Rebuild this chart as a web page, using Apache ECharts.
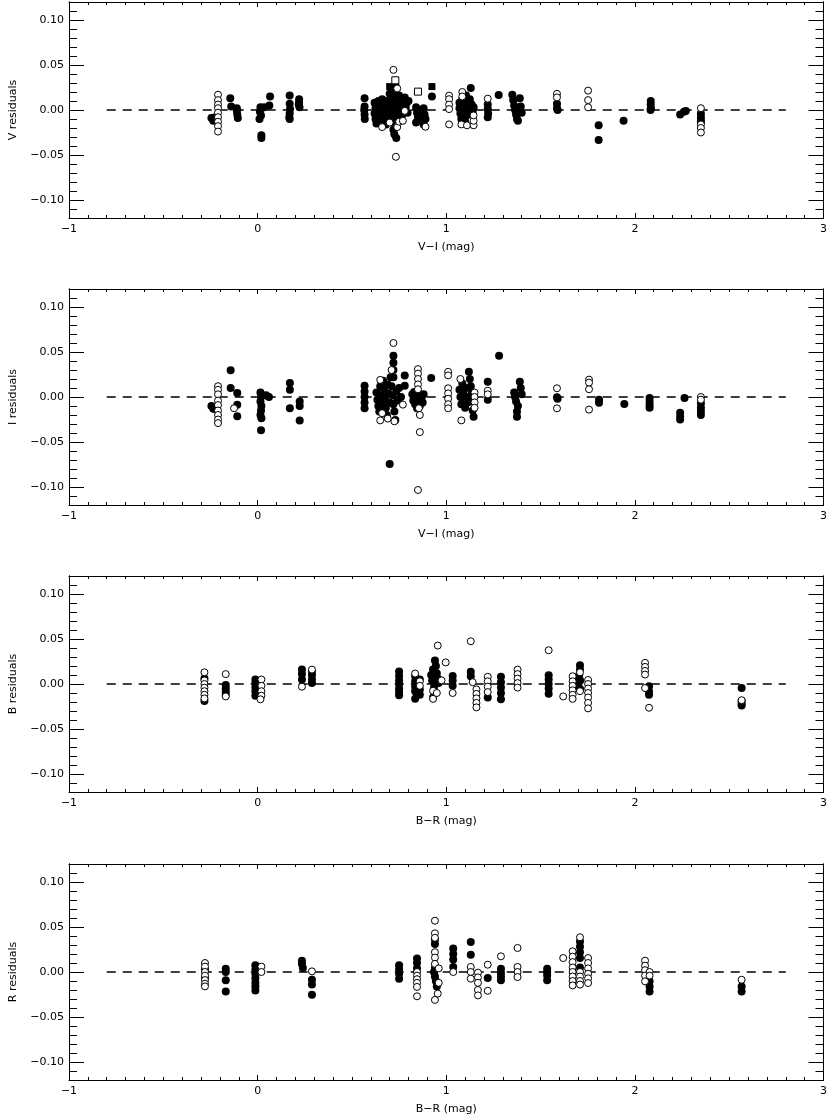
<!DOCTYPE html>
<html><head><meta charset="utf-8">
<script src="https://cdn.jsdelivr.net/npm/echarts@6/dist/echarts.min.js"></script>
<style>html,body{margin:0;padding:0;background:#fff}#c{width:830px;height:1118px}</style>
</head><body><div id="c"></div><script>
// ---------- tick values ----------
const xMin = -1, xMax = 3, xInterval = 1;
const yMin = -0.12, yMax = 0.12;
const yMajorTicks = [-0.10, -0.05, 0.00, 0.05, 0.10];
const yMinorTicks = [-0.11,-0.10,-0.09,-0.08,-0.07,-0.06,-0.05,-0.04,-0.03,-0.02,-0.01,0,0.01,0.02,0.03,0.04,0.05,0.06,0.07,0.08,0.09,0.10,0.11];
const zeroLineX = [-0.8, 2.8];
const yNames = ['V residuals', 'I residuals', 'B residuals', 'R residuals'];
const xNames = ['V\u2212I (mag)', 'V\u2212I (mag)', 'B\u2212R (mag)', 'B\u2212R (mag)'];

// ---------- Panel 1: V residuals vs V-I ----------
const vFilled = [
[-0.245,-0.009],[-0.235,-0.012],[-0.225,-0.008],[-0.215,-0.011],
[-0.145,0.013],[-0.14,0.004],[-0.11,-0.001],[-0.108,-0.005],[-0.105,-0.009],[-0.11,0.002],
[0.015,0.003],[0.012,-0.002],[0.018,-0.006],[0.01,-0.010],[0.02,-0.028],[0.02,-0.031],[0.035,0.003],[0.066,0.015],[0.062,0.005],
[0.17,0.016],[0.17,0.007],[0.172,0.001],[0.17,-0.004],[0.168,-0.008],[0.17,-0.010],
[0.22,0.012],[0.22,0.009],[0.218,0.006],[0.222,0.003],
[0.567,0.013],[0.567,0.004],[0.565,0.0],[0.567,-0.005],[0.568,-0.010],
[0.62,0.008],[0.625,0.002],[0.62,-0.004],[0.625,-0.010],[0.63,-0.015],[0.64,0.010],[0.645,0.004],[0.65,-0.002],[0.645,-0.008],[0.66,-0.013],
[0.66,0.012],[0.665,0.006],[0.67,0.0],[0.67,-0.006],[0.675,-0.012],[0.68,-0.016],[0.685,0.010],[0.69,0.004],[0.69,-0.003],[0.695,-0.009],
[0.70,0.018],[0.705,0.012],[0.71,0.006],[0.71,-0.001],[0.715,-0.008],[0.72,-0.014],[0.72,-0.022],[0.725,-0.027],[0.735,-0.031],
[0.73,0.028],[0.73,0.020],[0.735,0.013],[0.74,0.005],[0.74,-0.003],[0.745,-0.010],[0.75,0.016],[0.755,0.009],[0.76,0.002],[0.765,-0.006],
[0.77,0.012],[0.775,0.006],[0.78,0.014],[0.785,0.003],[0.79,0.008],[0.795,-0.003],[0.80,0.010],
[0.84,0.003],[0.845,-0.003],[0.85,-0.008],[0.84,-0.014],[0.86,0.0],[0.865,-0.006],[0.87,-0.012],[0.88,0.002],[0.885,-0.005],[0.89,-0.010],[0.88,-0.016],[0.924,0.015],
[1.07,0.008],[1.07,0.002],[1.075,-0.004],[1.08,-0.010],[1.085,0.012],[1.09,0.005],[1.095,-0.002],[1.10,-0.008],[1.10,-0.013],[1.105,0.016],
[1.11,0.009],[1.115,0.002],[1.12,-0.005],[1.125,0.012],[1.13,0.0245],[1.135,0.006],[1.14,-0.002],[1.145,0.003],
[1.22,0.006],[1.22,0.001],[1.222,-0.004],[1.22,-0.008],
[1.278,0.0167],
[1.35,0.017],[1.355,0.011],[1.36,0.005],[1.365,0.0],[1.37,-0.005],[1.375,-0.010],[1.39,0.013],[1.395,0.004],[1.40,-0.003],[1.38,-0.012],
[1.587,0.007],[1.587,0.002],[1.59,0.0],
[1.808,-0.017],[1.808,-0.0334],
[1.94,-0.012],
[2.084,0.010],[2.084,0.006],[2.085,0.002],[2.083,0.0],
[2.24,-0.005],[2.26,-0.002],[2.27,-0.001],
[2.35,-0.004],[2.35,-0.008],[2.35,-0.012],[2.35,-0.014]
];
const vOpen = [
[-0.21,0.017],[-0.21,0.011],[-0.21,0.006],[-0.21,0.002],[-0.21,-0.003],[-0.21,-0.008],[-0.21,-0.013],[-0.21,-0.018],[-0.21,-0.024],
[0.72,0.0446],[0.733,-0.052],[0.74,0.024],[0.66,-0.019],[0.70,-0.014],[0.74,-0.019],[0.75,-0.013],[0.78,-0.001],[0.77,-0.012],[0.89,-0.0186],
[1.015,0.016],[1.015,0.012],[1.015,0.006],[1.015,0.001],[1.015,-0.016],
[1.085,0.020],[1.085,0.015],[1.08,-0.016],[1.11,-0.017],[1.145,-0.017],[1.145,-0.012],[1.145,-0.006],
[1.22,0.0126],
[1.587,0.018],[1.587,0.014],
[1.752,0.0215],[1.752,0.011],[1.752,0.003],
[2.35,0.002],[2.35,-0.016],[2.35,-0.020],[2.35,-0.025]
];
const vOpenSquare = [[0.85,0.0204],[0.73,0.033]];
const vFilledSquare = [[0.924,0.026],[0.70,0.026]];

// ---------- Panel 2: I residuals vs V-I ----------
const iFilled = [
[-0.245,-0.010],[-0.235,-0.013],[-0.225,-0.011],[-0.22,-0.014],
[-0.143,0.0297],[-0.143,0.010],[-0.108,0.0045],[-0.108,-0.0085],[-0.108,-0.0214],
[0.015,0.005],[0.018,0.0],[0.015,-0.005],[0.02,-0.010],[0.018,-0.015],[0.015,-0.020],[0.02,-0.0237],[0.018,-0.037],[0.06,0.0],[0.045,0.002],
[0.171,0.0156],[0.171,0.008],[0.171,-0.0126],
[0.223,-0.005],[0.223,-0.010],[0.223,-0.026],
[0.567,0.0126],[0.567,0.006],[0.567,0.0],[0.567,-0.006],[0.567,-0.0126],
[0.63,0.005],[0.635,-0.003],[0.64,-0.010],[0.645,-0.016],[0.65,0.012],[0.655,0.002],[0.66,-0.006],[0.665,0.018],[0.67,0.008],[0.675,-0.002],
[0.68,-0.012],[0.685,-0.02],[0.69,0.014],[0.695,0.004],[0.70,-0.0744],[0.70,-0.006],[0.705,0.022],[0.71,0.012],[0.715,0.002],
[0.72,0.0457],[0.72,0.038],[0.72,0.030],[0.72,0.022],[0.72,-0.008],[0.725,-0.016],[0.73,-0.0255],[0.735,0.006],[0.74,-0.004],[0.75,0.010],[0.76,0.0],
[0.78,0.024],[0.78,0.0126],
[0.82,0.003],[0.825,-0.004],[0.83,0.0056],[0.835,-0.008],[0.84,0.002],[0.845,-0.0126],[0.85,0.004],[0.855,-0.004],[0.86,-0.010],[0.87,0.0],[0.875,-0.006],[0.88,0.003],[0.92,0.021],
[1.07,0.008],[1.075,0.0],[1.08,-0.008],[1.085,0.015],[1.09,0.005],[1.095,-0.004],[1.10,-0.012],[1.105,0.010],[1.11,0.0],[1.115,-0.006],
[1.12,0.028],[1.125,0.020],[1.13,0.012],[1.135,0.004],[1.14,-0.003],[1.14,-0.015],[1.145,-0.022],
[1.22,0.017],[1.22,-0.003],
[1.28,0.0457],
[1.36,0.005],[1.365,0.0],[1.37,-0.005],[1.375,-0.016],[1.375,-0.022],[1.39,0.017],[1.395,0.010],[1.40,0.003],[1.38,-0.010],
[1.587,-0.0003],[1.59,-0.002],
[1.81,-0.003],[1.81,-0.0065],
[1.944,-0.0078],
[2.078,-0.001],[2.078,-0.005],[2.078,-0.009],[2.078,-0.012],
[2.24,-0.0175],[2.24,-0.022],[2.24,-0.025],[2.263,-0.001],
[2.35,-0.007],[2.35,-0.012],[2.35,-0.016],[2.35,-0.020]
];
const iOpen = [
[-0.21,0.012],[-0.21,0.008],[-0.21,0.003],[-0.21,-0.004],[-0.21,-0.009],[-0.21,-0.015],[-0.21,-0.020],[-0.21,-0.025],[-0.21,-0.029],
[-0.125,-0.0125],
[0.72,0.060],[0.85,-0.1033],[0.65,0.019],[0.65,-0.026],[0.725,-0.027],[0.77,-0.0085],[0.71,0.03],[0.69,-0.024],[0.66,-0.018],
[0.85,0.031],[0.85,0.026],[0.85,0.020],[0.85,0.014],[0.85,0.0086],[0.855,-0.0125],[0.86,-0.020],[0.86,-0.039],
[1.01,0.028],[1.01,0.024],[1.01,0.0097],[1.01,0.004],[1.01,-0.002],[1.01,-0.008],[1.01,-0.0126],
[1.075,0.020],[1.08,-0.026],[1.15,0.005],[1.15,0.0],[1.15,-0.006],[1.15,-0.012],
[1.22,0.007],[1.22,0.003],
[1.587,0.0097],[1.587,-0.0126],
[1.757,0.0193],[1.757,0.016],[1.757,0.0086],[1.757,-0.014],
[2.35,0.0],[2.35,-0.003]
];

// ---------- Panel 3: B residuals vs B-R ----------
const bFilled = [
[-0.282,0.006],[-0.282,-0.019],
[-0.169,-0.001],[-0.169,-0.005],[-0.169,-0.009],[-0.169,-0.012],
[-0.012,0.005],[-0.012,0.001],[-0.012,-0.004],[-0.012,-0.008],[-0.012,-0.013],
[0.235,0.016],[0.235,0.011],[0.235,0.005],
[0.288,0.014],[0.288,0.010],[0.288,0.005],[0.288,0.001],
[0.75,0.014],[0.75,0.009],[0.75,0.004],[0.75,0.0],[0.75,-0.005],[0.75,-0.009],[0.75,-0.0125],
[0.835,0.0086],[0.835,0.003],[0.835,-0.003],[0.835,-0.008],[0.835,-0.0165],[0.86,0.005],[0.86,-0.006],[0.86,-0.012],
[0.92,0.010],[0.925,0.004],[0.93,0.016],[0.94,0.026],[0.945,0.020],[0.95,0.012],[0.955,0.006],[0.96,0.001],[0.935,-0.004],[0.93,-0.015],
[1.034,0.009],[1.034,0.004],[1.034,-0.002],
[1.13,0.0137],[1.13,0.0086],
[1.22,-0.015],
[1.29,0.008],[1.29,0.002],[1.29,-0.004],[1.29,-0.010],[1.29,-0.017],
[1.543,0.0097],[1.543,0.005],[1.543,0.0],[1.543,-0.005],[1.543,-0.0107],
[1.709,0.0209],[1.709,0.016],[1.705,0.010],[1.71,0.004],[1.70,-0.001],[1.71,-0.0059],[1.675,0.006],[1.68,-0.004],
[2.075,-0.0026],[2.075,-0.008],[2.075,-0.0119],
[2.566,-0.0045],[2.566,-0.019],[2.566,-0.022],[2.566,-0.024]
];
const bOpen = [
[-0.282,0.013],[-0.282,0.004],[-0.282,0.0],[-0.282,-0.004],[-0.282,-0.008],[-0.282,-0.012],[-0.282,-0.016],
[-0.169,0.011],[-0.169,-0.0138],
[0.02,0.005],[0.02,-0.002],[0.02,-0.008],[0.02,-0.013],[0.015,-0.017],
[0.235,-0.003],
[0.288,0.016],
[0.835,0.0116],[0.86,0.003],[0.86,-0.002],
[0.955,0.0427],[0.997,0.024],[0.93,-0.0075],[0.93,-0.0165],[0.95,-0.010],[0.975,0.004],
[1.034,-0.010],
[1.13,0.0475],[1.14,0.002],
[1.16,-0.006],[1.16,-0.011],[1.16,-0.016],[1.16,-0.021],[1.16,-0.026],
[1.22,0.008],[1.22,0.003],[1.22,-0.003],[1.22,-0.009],
[1.378,0.016],[1.378,0.011],[1.378,0.006],[1.378,0.001],[1.378,-0.004],
[1.543,0.0375],
[1.62,-0.0138],
[1.67,0.0086],[1.67,0.003],[1.67,-0.002],[1.67,-0.007],[1.67,-0.012],[1.67,-0.0165],
[1.709,0.013],[1.709,-0.008],
[1.752,0.0045],[1.752,0.0],[1.752,-0.005],[1.752,-0.010],[1.752,-0.015],[1.752,-0.021],[1.752,-0.0271],
[2.054,0.0235],[2.054,0.019],[2.054,0.0145],[2.054,0.0105],[2.054,-0.0045],
[2.075,-0.0264],
[2.566,-0.018]
];

// ---------- Panel 4: R residuals vs B-R ----------
const rFilled = [
[-0.279,0.003],[-0.279,-0.006],
[-0.169,0.0037],[-0.169,0.0],[-0.169,-0.0093],[-0.169,-0.0216],
[-0.012,0.0074],[-0.012,0.003],[-0.012,-0.002],[-0.012,-0.007],[-0.012,-0.012],[-0.012,-0.016],[-0.012,-0.0205],
[0.235,0.0125],[0.235,0.009],[0.24,0.0045],
[0.288,-0.0086],[0.288,-0.014],[0.288,-0.0253],
[0.75,0.0074],[0.75,0.003],[0.75,-0.002],[0.75,-0.0074],
[0.845,0.015],[0.845,0.010],[0.845,0.004],
[0.94,0.036],[0.94,0.031],[0.94,0.0045],[0.935,0.0],[0.94,-0.005],[0.945,-0.010],[0.95,-0.016],
[1.037,0.026],[1.037,0.020],[1.037,0.014],[1.037,0.0056],
[1.13,0.0334],[1.13,0.0193],
[1.22,-0.0067],
[1.29,0.0037],[1.29,-0.001],[1.29,-0.005],[1.29,-0.0093],
[1.535,0.0037],[1.535,0.0],[1.535,-0.004],[1.535,-0.0093],
[1.709,0.034],[1.709,0.028],[1.709,0.022],[1.709,0.0155],[1.709,0.005],
[2.078,-0.0104],[2.078,-0.016],[2.078,-0.0216],
[2.566,-0.016],[2.566,-0.0216]
];
const rOpen = [
[-0.279,0.010],[-0.279,0.006],[-0.279,0.0],[-0.279,-0.004],[-0.279,-0.009],[-0.279,-0.013],[-0.279,-0.016],
[0.02,0.006],[0.02,0.0],
[0.288,0.0007],
[0.845,0.0],[0.845,-0.004],[0.845,-0.008],[0.845,-0.012],[0.845,-0.0166],[0.845,-0.027],
[0.94,0.057],[0.94,0.043],[0.94,0.038],[0.94,0.022],[0.94,0.016],[0.94,0.009],[0.96,0.004],[0.94,-0.031],[0.955,-0.024],[0.96,-0.012],
[1.037,0.0],
[1.13,0.0056],[1.13,0.0],[1.13,-0.0074],
[1.168,-0.0007],[1.168,-0.006],[1.168,-0.012],[1.168,-0.020],[1.168,-0.026],
[1.22,0.0081],[1.22,-0.0209],
[1.29,0.0174],
[1.378,0.0267],[1.378,0.0056],[1.378,0.0],[1.378,-0.0056],
[1.62,0.0155],
[1.67,0.023],[1.67,0.017],[1.67,0.011],[1.67,0.005],[1.67,0.0],[1.67,-0.005],[1.67,-0.010],[1.67,-0.0149],
[1.709,0.0386],[1.709,0.0],[1.709,-0.005],[1.709,-0.010],[1.709,-0.014],
[1.752,0.0155],[1.752,0.010],[1.752,0.004],[1.752,-0.002],[1.752,-0.007],[1.752,-0.0123],
[2.054,0.0126],[2.054,0.007],[2.054,0.002],[2.054,-0.004],[2.054,-0.0104],
[2.078,0.0],[2.078,-0.004],
[2.566,-0.0086]
];

// ---------- build chart ----------
const panels = [
  {filled: vFilled, open: vOpen, oSq: vOpenSquare, fSq: vFilledSquare},
  {filled: iFilled, open: iOpen},
  {filled: bFilled, open: bOpen},
  {filled: rFilled, open: rOpen}
];
const gridTops = [2, 289, 576, 864];
const FONT = 'DejaVu Sans';
const fmtY = v => (v < -1e-9 ? '\u2212' : '') + Math.abs(v).toFixed(2);
const fmtX = v => (v < 0 ? '\u2212' : '') + Math.abs(v);
const line = {show: true, onZero: false, lineStyle: {color: '#000', width: 1}};

const grid = [], xAxis = [], yAxis = [], series = [];
panels.forEach((p, i) => {
  grid.push({left: 63, right: 3, top: gridTops[i], height: 216, containLabel: false});
  const xBase = {type: 'value', gridIndex: i, min: xMin, max: xMax, interval: xInterval,
    axisLine: line, splitLine: {show: false},
    axisTick: {show: true, inside: true, length: 5, lineStyle: {color: '#000'}},
    minorTick: {show: true, splitNumber: 10, length: 3, lineStyle: {color: '#000'}},
    minorSplitLine: {show: false}};
  xAxis.push(Object.assign({}, xBase, {position: 'bottom',
    axisLabel: {show: true, formatter: fmtX, color: '#000', fontFamily: FONT, fontSize: 11, margin: 6},
    name: xNames[i], nameLocation: 'middle', nameGap: 24,
    nameTextStyle: {color: '#000', fontFamily: FONT, fontSize: 11}}));
  xAxis.push(Object.assign({}, xBase, {position: 'top', axisLabel: {show: false}}));
  const yBase = {type: 'value', gridIndex: i, min: yMin, max: yMax,
    axisLine: line, splitLine: {show: false}};
  yAxis.push(Object.assign({}, yBase, {position: 'left',
    axisLabel: {show: true, customValues: yMajorTicks, formatter: fmtY, color: '#000', fontFamily: FONT, fontSize: 11, margin: 5},
    axisTick: {show: true, inside: true, length: 15, customValues: yMajorTicks, lineStyle: {color: '#000'}},
    name: yNames[i], nameLocation: 'middle', nameGap: 50, nameRotate: 90,
    nameTextStyle: {color: '#000', fontFamily: FONT, fontSize: 11}}));
  yAxis.push(Object.assign({}, yBase, {position: 'left', axisLabel: {show: false},
    axisTick: {show: true, inside: true, length: 8, customValues: yMinorTicks, lineStyle: {color: '#000'}}}));
  yAxis.push(Object.assign({}, yBase, {position: 'right', axisLabel: {show: false},
    axisTick: {show: true, inside: true, length: 15, customValues: yMajorTicks, lineStyle: {color: '#000'}}}));
  yAxis.push(Object.assign({}, yBase, {position: 'right', axisLabel: {show: false},
    axisTick: {show: true, inside: true, length: 8, customValues: yMinorTicks, lineStyle: {color: '#000'}}}));

  const xi = 2 * i, yi = 4 * i;
  series.push({type: 'line', xAxisIndex: xi, yAxisIndex: yi, symbol: 'none', silent: true,
    data: zeroLineX.map(x => [x, 0]),
    lineStyle: {color: '#000', width: 1.4, type: [9, 7]}, z: 1});
  series.push({type: 'scatter', xAxisIndex: xi, yAxisIndex: yi, data: p.filled,
    symbol: 'circle', symbolSize: 8, itemStyle: {color: '#000', opacity: 1}, z: 2});
  if (p.fSq) series.push({type: 'scatter', xAxisIndex: xi, yAxisIndex: yi, data: p.fSq,
    symbol: 'rect', symbolSize: 7, itemStyle: {color: '#000', opacity: 1}, z: 2});
  series.push({type: 'scatter', xAxisIndex: xi, yAxisIndex: yi, data: p.open,
    symbol: 'circle', symbolSize: 7, itemStyle: {color: '#fff', borderColor: '#000', borderWidth: 1, opacity: 1}, z: 3});
  if (p.oSq) series.push({type: 'scatter', xAxisIndex: xi, yAxisIndex: yi, data: p.oSq,
    symbol: 'rect', symbolSize: 7, itemStyle: {color: '#fff', borderColor: '#000', borderWidth: 1, opacity: 1}, z: 3});
});

const chart = echarts.init(document.getElementById('c'), null, {renderer: 'canvas'});
chart.setOption({animation: false, backgroundColor: '#fff', grid, xAxis, yAxis, series});
</script></body></html>
